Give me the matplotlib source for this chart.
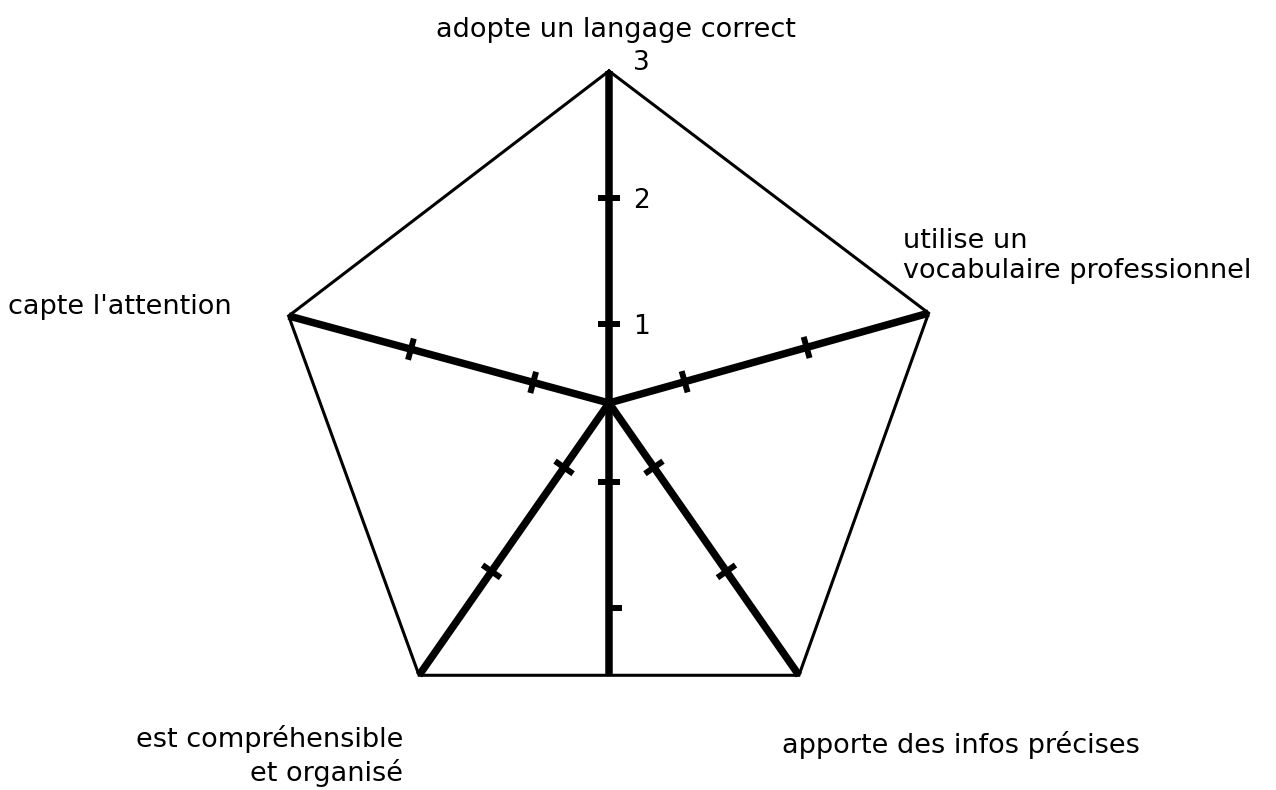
import numpy as np
import matplotlib
matplotlib.use("Agg")
import matplotlib.pyplot as plt

# ---- data ----
categories = ["adopte un langage correct",
              "utilise un\nvocabulaire professionnel",
              "apporte des infos précises",
              "est compréhensible\net organisé",
              "capte l'attention"]
values = [3, 3, 3, 3, 3]
tick_values = [1, 2, 3]
tick_labels = ["1", "2", "3"]
r_min, r_max = 0.38, 3.0

# ---- layout (pixel-like canvas) ----
W, H = 1276, 790
CX, CY = 609, 403
L = 332.0
angles_deg = [90.0, 15.7, -55.1, -124.9, 164.8]

def rad(v):
    return (v - r_min) / (r_max - r_min) * L

def pt(v, ang):
    a = np.deg2rad(ang)
    r = rad(v)
    return CX + r * np.cos(a), CY - r * np.sin(a)

fig = plt.figure(figsize=(W / 100, H / 100), dpi=100)
ax = fig.add_axes([0, 0, 1, 1])
ax.set_xlim(0, W)
ax.set_ylim(H, 0)
ax.axis("off")

# outline polygon (data)
xs, ys = zip(*[pt(v, a) for v, a in zip(values, angles_deg)])
ax.plot(list(xs) + [xs[0]], list(ys) + [ys[0]], color="black", lw=2.2,
        solid_joinstyle="miter", zorder=2)

# spokes
for a in angles_deg:
    x1, y1 = pt(r_max, a)
    ax.plot([CX, x1], [CY, y1], color="black", lw=5.4,
            solid_capstyle="butt", zorder=3)

# downward extension of vertical axis to bottom edge
xbr, ybr = xs[2], ys[2]
xbl, ybl = xs[3], ys[3]
ybot = ybl + (CX - xbl) / (xbr - xbl) * (ybr - ybl)
ax.plot([CX, CX], [CY, ybot], color="black", lw=5.4,
        solid_capstyle="butt", zorder=3)

# ticks on spokes
half = 11
for a in angles_deg:
    ar = np.deg2rad(a)
    px, py = np.sin(ar), np.cos(ar)   # perpendicular in canvas coords
    for tv in tick_values[:-1]:
        x0, y0 = pt(tv, a)
        ax.plot([x0 - half * px, x0 + half * px],
                [y0 - half * py, y0 + half * py],
                color="black", lw=4.3, solid_capstyle="butt", zorder=4)

# ticks on downward extension
for i, tv in enumerate(tick_values[:-1]):
    y0 = CY + rad(tv)
    x_left = CX - half if i == 0 else CX
    ax.plot([x_left, CX + half + (2 if i else 0)], [y0, y0], color="black",
            lw=4.3, solid_capstyle="butt", zorder=4)

# tick labels on vertical axis
for tv, tl in zip(tick_values, tick_labels):
    x0, y0 = pt(tv, 90)
    dy = -8 if tv == r_max else 3
    ax.text(x0 + 24, y0 + dy, tl, fontsize=19, family="DejaVu Sans",
            ha="left", va="center", zorder=5)

# category labels
fs = 19.5
ax.text(616, 30, categories[0], fontsize=fs, ha="center", va="center")
ax.text(903, 256, categories[1], fontsize=fs, ha="left", va="center",
        linespacing=1.25)
ax.text(782, 745, categories[2], fontsize=fs, ha="left", va="center")
ax.text(403, 756, categories[3], fontsize=fs, ha="right", va="center",
        linespacing=1.25, multialignment="right")
ax.text(8, 307, categories[4], fontsize=fs, ha="left", va="center")

fig.savefig("out.png", dpi=100, facecolor="white")
